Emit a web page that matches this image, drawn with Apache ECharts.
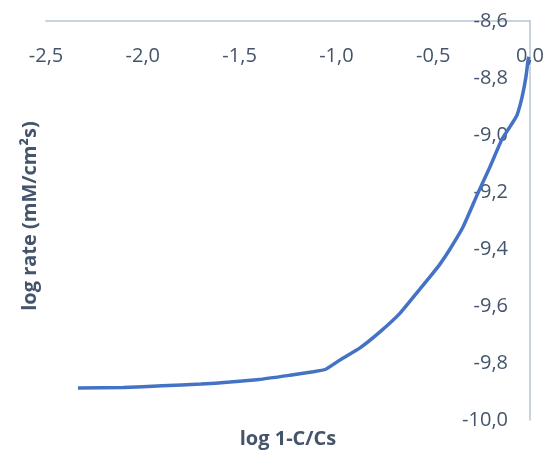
<!DOCTYPE html>
<html>
<head>
<meta charset="utf-8">
<script src="https://cdn.jsdelivr.net/npm/echarts@6/dist/echarts.min.js"></script>
<style>
  html, body { margin: 0; padding: 0; background: #fff; }
  #chart { width: 551px; height: 454px; }
</style>
</head>
<body>
<div id="chart"></div>
<script>
// log(1 - C/Cs) against log rate
const logConc = [-2.335, -2.10, -1.90, -1.70, -1.55, -1.40, -1.24, -1.12, -1.055, -0.981,
  -0.878, -0.775, -0.671, -0.568, -0.517, -0.465, -0.413, -0.346, -0.269, -0.207, -0.145,
  -0.114, -0.095, -0.067, -0.041, -0.021, -0.010, -0.005];
const logRate = [-9.888, -9.886, -9.880, -9.874, -9.867, -9.858, -9.843, -9.831, -9.822, -9.789,
  -9.747, -9.691, -9.625, -9.540, -9.498, -9.453, -9.400, -9.323, -9.204, -9.112, -9.015,
  -8.982, -8.962, -8.930, -8.867, -8.796, -8.737, -8.726];

const xRange = { min: -2.5, max: 0, interval: 0.5 };
const yRange = { min: -10, max: -8.6, interval: 0.2 };
const xTitle = 'log 1-C/Cs';
const yTitle = 'log rate (mM/cm\u00b2s)';

const labelColor = '#44546a';
const axisColor = '#b8c3d5';
const fontFamily = '"Open Sans", "Noto Sans", sans-serif';
const comma = v => v.toFixed(1).replace('.', ',');

const chart = echarts.init(document.getElementById('chart'), null, { renderer: 'canvas' });
chart.setOption({
  animation: false,
  backgroundColor: '#fff',
  grid: { left: 46, right: 21, top: 21, bottom: 34, containLabel: false },
  xAxis: {
    type: 'value',
    position: 'top',
    min: xRange.min, max: xRange.max, interval: xRange.interval,
    axisLine: { show: true, lineStyle: { color: axisColor, width: 1.5 } },
    axisTick: { show: false },
    splitLine: { show: false },
    axisLabel: {
      inside: true, margin: 25,
      color: labelColor, fontSize: 20, fontFamily,
      formatter: comma
    }
  },
  yAxis: {
    type: 'value',
    position: 'right',
    min: yRange.min, max: yRange.max, interval: yRange.interval,
    axisLine: { show: true, lineStyle: { color: axisColor, width: 1.5 } },
    axisTick: { show: false },
    splitLine: { show: false },
    axisLabel: {
      inside: true, margin: 22,
      color: labelColor, fontSize: 20, fontFamily,
      formatter: comma
    }
  },
  graphic: [
    {
      type: 'text', x: 30, y: 216, rotation: Math.PI / 2,
      style: {
        text: yTitle, fill: labelColor, font: 'bold 20px ' + fontFamily,
        align: 'center', verticalAlign: 'middle'
      }
    },
    {
      type: 'text', x: 288, y: 439,
      style: {
        text: xTitle, fill: labelColor, font: 'bold 20px ' + fontFamily,
        align: 'center', verticalAlign: 'middle'
      }
    }
  ],
  series: [{
    type: 'line',
    data: logConc.map((x, i) => [x, logRate[i]]),
    showSymbol: false,
    smooth: 0.15,
    lineStyle: { color: '#4472c4', width: 3.5 }
  }]
});
</script>
</body>
</html>
